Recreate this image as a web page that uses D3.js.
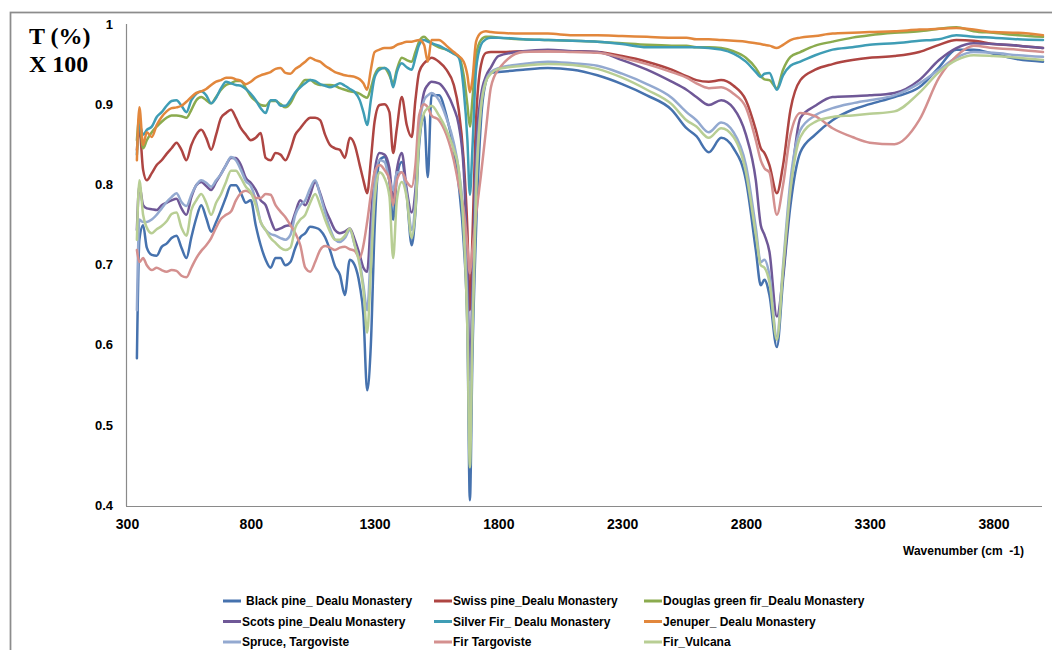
<!DOCTYPE html>
<html>
<head>
<meta charset="utf-8">
<script src="https://cdn.jsdelivr.net/npm/d3@7"></script>
<style>
  html, body { margin: 0; padding: 0; background: #fff; }
  svg { display: block; }
  text { font-family: "Liberation Sans", Arial, sans-serif; }
</style>
</head>
<body>
<div class="container"></div>
<script>
// wavenumber grid (cm-1) shared by all spectra
const wavenumbers = [340,350,365,380,400,420,440,460,480,500,520,540,560,580,600,620,640,660,680,700,
  720,740,760,780,800,820,840,860,880,900,920,940,960,980,1000,1020,1040,1060,1080,1100,
  1120,1140,1160,1180,1200,1220,1240,1255,1270,1285,1300,1320,1340,1360,1375,1390,1410,1430,1450,1465,
  1480,1500,1515,1530,1560,1590,1620,1640,1660,1675,1685,1695,1710,1730,1750,1770,1800,1900,2000,2100,
  2200,2300,2400,2500,2560,2600,2650,2700,2750,2800,2840,2860,2875,2895,2925,2950,2980,3020,3080,3150,
  3230,3300,3400,3500,3580,3650,3720,3800,3900,4000];

const blackPine = [0.583,0.731,0.749,0.721,0.712,0.711,0.722,0.726,0.733,0.736,
  0.721,0.708,0.734,0.758,0.774,0.758,0.741,0.753,0.768,0.784,
  0.799,0.799,0.789,0.777,0.780,0.749,0.724,0.706,0.696,0.708,
  0.708,0.699,0.703,0.721,0.734,0.739,0.747,0.746,0.743,0.734,
  0.718,0.698,0.687,0.662,0.706,0.699,0.674,0.637,0.543,0.600,
  0.743,0.830,0.834,0.803,0.756,0.808,0.828,0.787,0.724,0.765,
  0.849,0.886,0.809,0.911,0.911,0.886,0.843,0.799,0.727,0.618,
  0.406,0.581,0.743,0.880,0.928,0.939,0.940,0.943,0.945,0.943,
  0.936,0.925,0.911,0.893,0.870,0.860,0.840,0.858,0.845,0.805,
  0.718,0.674,0.681,0.662,0.597,0.681,0.774,0.840,0.862,0.880,
  0.893,0.900,0.909,0.921,0.946,0.968,0.968,0.963,0.956,0.953];

const swissPine = [0.843,0.870,0.818,0.805,0.814,0.824,0.830,0.838,0.845,0.852,
  0.843,0.830,0.849,0.862,0.868,0.858,0.843,0.862,0.883,0.889,
  0.893,0.883,0.870,0.862,0.855,0.858,0.864,0.833,0.830,0.839,
  0.837,0.830,0.843,0.862,0.870,0.878,0.883,0.883,0.880,0.862,
  0.849,0.845,0.843,0.833,0.858,0.849,0.824,0.805,0.789,0.830,
  0.878,0.899,0.900,0.890,0.839,0.870,0.909,0.874,0.859,0.905,
  0.940,0.951,0.955,0.958,0.953,0.943,0.924,0.893,0.830,0.743,
  0.643,0.731,0.880,0.949,0.964,0.965,0.965,0.966,0.966,0.966,
  0.965,0.960,0.953,0.943,0.935,0.930,0.928,0.930,0.923,0.905,
  0.868,0.845,0.839,0.824,0.789,0.824,0.893,0.930,0.943,0.950,
  0.955,0.958,0.960,0.965,0.974,0.980,0.979,0.975,0.973,0.970];

const douglasFir = [0.855,0.883,0.845,0.855,0.865,0.872,0.878,0.883,0.886,0.886,
  0.885,0.883,0.893,0.905,0.909,0.905,0.901,0.909,0.918,0.924,
  0.926,0.929,0.929,0.920,0.910,0.904,0.899,0.898,0.904,0.904,
  0.900,0.896,0.901,0.913,0.923,0.930,0.930,0.926,0.924,0.924,
  0.924,0.923,0.920,0.918,0.916,0.915,0.913,0.910,0.908,0.920,
  0.936,0.945,0.945,0.936,0.926,0.943,0.958,0.955,0.953,0.965,
  0.978,0.984,0.980,0.976,0.971,0.968,0.963,0.960,0.936,0.899,
  0.872,0.905,0.961,0.980,0.984,0.984,0.983,0.981,0.980,0.979,
  0.978,0.976,0.974,0.973,0.973,0.971,0.971,0.970,0.966,0.958,
  0.945,0.935,0.931,0.930,0.920,0.943,0.959,0.965,0.973,0.978,
  0.983,0.986,0.989,0.991,0.994,0.996,0.991,0.989,0.986,0.984];

const scotsPine = [0.743,0.799,0.774,0.770,0.769,0.768,0.774,0.777,0.780,0.782,
  0.770,0.762,0.784,0.799,0.803,0.798,0.793,0.803,0.813,0.824,
  0.833,0.833,0.824,0.808,0.802,0.793,0.780,0.774,0.756,0.743,
  0.745,0.748,0.749,0.765,0.780,0.774,0.787,0.803,0.789,0.770,
  0.756,0.743,0.739,0.741,0.745,0.731,0.712,0.696,0.691,0.756,
  0.815,0.839,0.837,0.820,0.780,0.818,0.839,0.793,0.765,0.793,
  0.868,0.915,0.924,0.928,0.926,0.915,0.895,0.874,0.818,0.693,
  0.556,0.668,0.843,0.911,0.935,0.946,0.960,0.966,0.968,0.966,
  0.965,0.955,0.943,0.928,0.918,0.909,0.899,0.905,0.895,0.862,
  0.805,0.749,0.737,0.716,0.635,0.687,0.793,0.883,0.898,0.909,
  0.910,0.911,0.914,0.930,0.955,0.970,0.976,0.975,0.973,0.970];

const silverFir = [0.837,0.874,0.862,0.868,0.872,0.884,0.890,0.898,0.904,0.905,
  0.898,0.890,0.905,0.913,0.916,0.911,0.901,0.908,0.920,0.928,
  0.926,0.924,0.923,0.919,0.913,0.905,0.895,0.889,0.905,0.905,
  0.898,0.898,0.905,0.915,0.921,0.926,0.930,0.929,0.925,0.923,
  0.921,0.923,0.926,0.923,0.919,0.915,0.905,0.890,0.874,0.905,
  0.933,0.943,0.945,0.940,0.921,0.940,0.951,0.946,0.943,0.958,
  0.974,0.980,0.978,0.976,0.973,0.968,0.963,0.958,0.918,0.855,
  0.787,0.843,0.943,0.974,0.981,0.983,0.983,0.981,0.980,0.979,
  0.978,0.975,0.971,0.971,0.971,0.971,0.970,0.968,0.963,0.953,
  0.940,0.934,0.938,0.939,0.918,0.936,0.948,0.953,0.961,0.968,
  0.971,0.974,0.976,0.979,0.981,0.986,0.984,0.983,0.981,0.980];

const jenuper = [0.830,0.896,0.849,0.865,0.859,0.874,0.884,0.891,0.895,0.896,
  0.898,0.903,0.909,0.914,0.916,0.919,0.924,0.928,0.930,0.933,
  0.933,0.931,0.929,0.925,0.928,0.933,0.936,0.938,0.940,0.944,
  0.945,0.939,0.938,0.944,0.948,0.953,0.958,0.955,0.953,0.948,
  0.944,0.940,0.938,0.936,0.935,0.934,0.931,0.926,0.918,0.943,
  0.965,0.968,0.970,0.970,0.971,0.974,0.976,0.978,0.978,0.979,
  0.980,0.974,0.953,0.980,0.980,0.973,0.965,0.960,0.953,0.936,
  0.915,0.930,0.978,0.989,0.991,0.990,0.989,0.988,0.988,0.986,
  0.986,0.985,0.984,0.983,0.983,0.981,0.981,0.980,0.979,0.978,
  0.976,0.975,0.974,0.973,0.970,0.974,0.980,0.983,0.985,0.988,
  0.989,0.990,0.991,0.993,0.994,0.995,0.993,0.990,0.989,0.986];

const spruce = [0.643,0.756,0.753,0.753,0.756,0.762,0.770,0.778,0.784,0.789,
  0.778,0.773,0.787,0.799,0.805,0.802,0.797,0.805,0.813,0.824,
  0.834,0.830,0.818,0.804,0.798,0.780,0.753,0.743,0.738,0.736,
  0.733,0.731,0.737,0.762,0.774,0.780,0.795,0.805,0.787,0.765,
  0.745,0.731,0.728,0.733,0.743,0.724,0.703,0.674,0.643,0.718,
  0.799,0.830,0.828,0.805,0.793,0.815,0.815,0.787,0.743,0.780,
  0.868,0.905,0.911,0.914,0.905,0.883,0.852,0.818,0.756,0.643,
  0.481,0.631,0.805,0.899,0.930,0.940,0.945,0.950,0.953,0.951,
  0.948,0.938,0.925,0.908,0.890,0.880,0.865,0.877,0.865,0.824,
  0.746,0.703,0.706,0.687,0.610,0.699,0.805,0.868,0.886,0.895,
  0.901,0.905,0.911,0.926,0.943,0.958,0.965,0.964,0.961,0.959];

const firTargoviste = [0.718,0.703,0.708,0.699,0.693,0.696,0.693,0.691,0.693,0.692,
  0.686,0.684,0.696,0.708,0.717,0.724,0.733,0.746,0.757,0.762,
  0.766,0.780,0.789,0.792,0.789,0.783,0.783,0.788,0.787,0.774,
  0.766,0.759,0.749,0.739,0.724,0.696,0.691,0.703,0.718,0.723,
  0.721,0.718,0.721,0.722,0.719,0.717,0.708,0.724,0.753,0.787,
  0.815,0.824,0.818,0.805,0.774,0.805,0.815,0.803,0.797,0.824,
  0.886,0.900,0.896,0.886,0.880,0.862,0.830,0.799,0.768,0.724,
  0.689,0.718,0.762,0.812,0.868,0.921,0.943,0.965,0.966,0.965,
  0.964,0.958,0.950,0.940,0.933,0.926,0.920,0.921,0.913,0.896,
  0.855,0.830,0.820,0.815,0.762,0.799,0.862,0.889,0.885,0.870,
  0.859,0.852,0.850,0.880,0.933,0.960,0.973,0.970,0.968,0.965];

const firVulcana = [0.731,0.805,0.762,0.746,0.739,0.744,0.748,0.754,0.763,0.765,
  0.746,0.736,0.768,0.780,0.788,0.777,0.762,0.777,0.788,0.803,
  0.817,0.817,0.808,0.797,0.790,0.774,0.753,0.743,0.733,0.727,
  0.721,0.718,0.721,0.746,0.756,0.762,0.777,0.788,0.774,0.756,
  0.741,0.731,0.731,0.736,0.745,0.724,0.699,0.668,0.615,0.693,
  0.780,0.815,0.808,0.785,0.708,0.780,0.803,0.783,0.733,0.768,
  0.855,0.889,0.895,0.898,0.886,0.868,0.843,0.818,0.743,0.618,
  0.447,0.606,0.787,0.895,0.928,0.938,0.944,0.948,0.950,0.949,
  0.944,0.933,0.918,0.900,0.880,0.872,0.858,0.870,0.859,0.815,
  0.737,0.699,0.696,0.678,0.606,0.693,0.793,0.859,0.878,0.884,
  0.886,0.888,0.891,0.914,0.940,0.955,0.961,0.960,0.958,0.955];

const seriesNames = ["Black pine_ Dealu Monastery", "Swiss pine_Dealu Monastery", "Douglas green fir_Dealu Monastery",
  "Scots pine_Dealu Monastery", "Silver Fir_ Dealu Monastery", "Jenuper_ Dealu Monastery",
  "Spruce, Targoviste", "Fir Targoviste", "Fir_Vulcana"];
const seriesValues = [blackPine, swissPine, douglasFir, scotsPine, silverFir, jenuper, spruce, firTargoviste, firVulcana];
const seriesColors = ["#4672AE", "#AE4542", "#8BAB4E", "#6F5897", "#3F9DB5", "#E2873C", "#93A9D0", "#D4908F", "#B8CE94"];

const xTicks = [300, 800, 1300, 1800, 2300, 2800, 3300, 3800];
const yTicks = [0.4, 0.5, 0.6, 0.7, 0.8, 0.9, 1];
const yTickLabels = ["0.4", "0.5", "0.6", "0.7", "0.8", "0.9", "1"];

// layout
const WIDTH = 1052, HEIGHT = 650;
const PLOT = { left: 126, right: 1043, top: 24, bottom: 506 };
const AXIS_COLOR = "#8a8a8a";

const svg = d3.select(".container").append("svg")
  .attr("width", WIDTH)
  .attr("height", HEIGHT);

// chart frame (only its top and left edges fall inside the picture)
svg.append("rect")
  .attr("x", 10.5).attr("y", 12.5)
  .attr("width", 1100).attr("height", 700)
  .attr("fill", "none")
  .attr("stroke", "#8c8c8c")
  .attr("stroke-width", 1.75);

const x = d3.scaleLinear()
  .domain([300, 4000])
  .range([PLOT.left + 1, PLOT.right]);

const y = d3.scaleLinear()
  .domain([0.4, 1])
  .range([PLOT.bottom - 1, PLOT.top]);

const xAxis = svg.append("g")
  .attr("transform", `translate(0,${PLOT.bottom})`)
  .call(d3.axisBottom(x)
    .tickValues(xTicks)
    .tickFormat(d3.format("d"))
    .tickSize(0)
    .tickSizeOuter(0)
    .tickPadding(13));
xAxis.select(".domain")
  .attr("d", `M${PLOT.left},0.5H${PLOT.right - 1}`)
  .attr("stroke", AXIS_COLOR)
  .attr("stroke-width", 1.2);
xAxis.selectAll("text")
  .attr("fill", "#000")
  .style("font-size", "14px")
  .style("font-weight", "bold");

const yAxis = svg.append("g")
  .attr("transform", `translate(${PLOT.left},0)`)
  .call(d3.axisLeft(y)
    .tickValues(yTicks)
    .tickFormat((d, i) => yTickLabels[i])
    .tickSize(0)
    .tickSizeOuter(0)
    .tickPadding(13));
yAxis.select(".domain")
  .attr("d", `M0.5,${PLOT.top}V${PLOT.bottom}`)
  .attr("stroke", AXIS_COLOR)
  .attr("stroke-width", 1.2);
yAxis.selectAll("text")
  .attr("fill", "#000")
  .style("font-size", "13px")
  .style("font-weight", "bold");

// spectra, drawn in series order so Fir_Vulcana ends on top
const line = d3.line()
  .x((d, i) => x(wavenumbers[i]))
  .y(d => y(d))
  .curve(d3.curveMonotoneX);

svg.append("g")
  .selectAll("path")
  .data(seriesValues)
  .enter()
  .append("path")
  .attr("fill", "none")
  .attr("stroke", (d, i) => seriesColors[i])
  .attr("stroke-width", 2.5)
  .attr("stroke-linejoin", "round")
  .attr("stroke-linecap", "round")
  .attr("d", line);

// axis titles
const yTitle = svg.append("text")
  .style("font-family", "'Liberation Serif', 'Times New Roman', serif")
  .style("font-size", "24px")
  .style("font-weight", "bold")
  .attr("fill", "#000");
yTitle.append("tspan").attr("x", 29).attr("y", 44).text("T (%)");
yTitle.append("tspan").attr("x", 29).attr("y", 72).text("X 100");

svg.append("text")
  .attr("x", 903)
  .attr("y", 555)
  .style("font-size", "12px")
  .style("font-weight", "bold")
  .style("white-space", "pre")
  .attr("fill", "#000")
  .text("Wavenumber (cm  -1)");

// legend, three columns by three rows
const legendCols = [223, 434, 644];
const legendRows = [601, 621.5, 642];
const legend = svg.append("g")
  .selectAll("g")
  .data(seriesNames)
  .enter()
  .append("g")
  .attr("transform", (d, i) => `translate(${legendCols[i % 3]},${legendRows[Math.floor(i / 3)]})`);

legend.append("line")
  .attr("x1", 0).attr("x2", 18)
  .attr("y1", 0).attr("y2", 0)
  .attr("stroke", (d, i) => seriesColors[i])
  .attr("stroke-width", 3);

legend.append("text")
  .attr("x", (d, i) => i === 0 ? 23 : 19)
  .attr("y", 0)
  .attr("dy", "0.35em")
  .style("font-size", "12px")
  .style("font-weight", "bold")
  .attr("fill", "#000")
  .text(d => d);
</script>
</body>
</html>
